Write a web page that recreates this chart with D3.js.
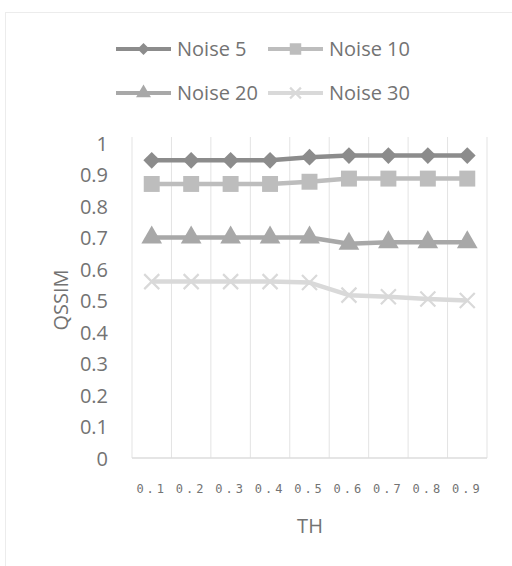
<!DOCTYPE html>
<html>
<head>
<meta charset="utf-8">
<script src="https://cdn.jsdelivr.net/npm/d3@7/dist/d3.min.js"></script>
<style>
  html, body { margin: 0; padding: 0; background: #fff; }
  svg { display: block; }
  text { font-family: "Open Sans", "Noto Sans", sans-serif; fill: #737373; }
</style>
</head>
<body>
<script>
// Threshold values on the x axis
const thresholds = ["0.1", "0.2", "0.3", "0.4", "0.5", "0.6", "0.7", "0.8", "0.9"];
const yTicks = [0, 0.1, 0.2, 0.3, 0.4, 0.5, 0.6, 0.7, 0.8, 0.9, 1];

// QSSIM per noise level
const noise5  = [0.945, 0.945, 0.945, 0.945, 0.955, 0.960, 0.960, 0.960, 0.960];
const noise10 = [0.870, 0.870, 0.870, 0.870, 0.877, 0.887, 0.887, 0.887, 0.887];
const noise20 = [0.700, 0.700, 0.700, 0.700, 0.700, 0.680, 0.685, 0.685, 0.685];
const noise30 = [0.560, 0.560, 0.560, 0.560, 0.557, 0.517, 0.512, 0.505, 0.500];

const seriesNames = ["Noise 5", "Noise 10", "Noise 20", "Noise 30"];

const series = [
  { name: seriesNames[0], values: noise5,  color: "#8c8c8c", marker: "diamond" },
  { name: seriesNames[1], values: noise10, color: "#bdbdbd", marker: "square" },
  { name: seriesNames[2], values: noise20, color: "#a8a8a8", marker: "triangle" },
  { name: seriesNames[3], values: noise30, color: "#d9d9d9", marker: "cross" }
];

const W = 512, H = 566;
const plot = { left: 132, right: 487, top: 143, bottom: 458 };

const svg = d3.select("body").append("svg").attr("width", W).attr("height", H);

// faint chart frame
svg.append("rect")
  .attr("x", 5.5).attr("y", 12.5).attr("width", 520).attr("height", 600)
  .attr("fill", "none").attr("stroke", "#ececec").attr("stroke-width", 1);

const x = d3.scaleBand().domain(thresholds).range([plot.left, plot.right]).padding(0);
const y = d3.scaleLinear().domain([0, 1]).range([plot.bottom, plot.top]);

// vertical category gridlines
const bounds = thresholds.map(t => x(t)).concat([plot.right]);
svg.append("g").selectAll("line").data(bounds).join("line")
  .attr("x1", d => d).attr("x2", d => d)
  .attr("y1", plot.top - 6).attr("y2", plot.bottom)
  .attr("stroke", "#e3e3e3").attr("stroke-width", 1);

// category axis baseline
svg.append("line")
  .attr("x1", plot.left).attr("x2", plot.right)
  .attr("y1", plot.bottom).attr("y2", plot.bottom)
  .attr("stroke", "#dcdcdc").attr("stroke-width", 1.5);

// y axis labels
const yAxis = d3.axisLeft(y).tickValues(yTicks).tickSize(0).tickPadding(0)
  .tickFormat(d => d3.format("")(+d.toFixed(1)));
const gy = svg.append("g").attr("transform", `translate(108,0)`).call(yAxis);
gy.select(".domain").remove();
gy.selectAll("text").attr("font-size", 20).attr("fill", "#737373")
  .style("font-family", "'Open Sans', sans-serif").attr("dy", "0.35em");

// x axis labels
const xAxis = d3.axisBottom(x).tickSize(0).tickPadding(0);
const gx = svg.append("g").attr("transform", `translate(0,${plot.bottom + 35})`).call(xAxis);
gx.select(".domain").remove();
gx.selectAll("text").attr("font-size", 12).attr("fill", "#9a9a9a")
  .attr("dy", "0").style("letter-spacing", "3px")
  .style("font-family", "'DejaVu Sans Mono', monospace");

// axis titles
svg.append("text").attr("x", 310).attr("y", 533).attr("text-anchor", "middle")
  .attr("font-size", 20).text("TH");
svg.append("text").attr("transform", "translate(68,300) rotate(-90)")
  .attr("text-anchor", "middle").attr("font-size", 20).text("QSSIM");

// marker shapes
function markerPath(type, s) {
  if (type === "diamond") return d3.symbol(d3.symbolDiamond2, s * s * 0.55)();
  if (type === "square") return d3.symbol(d3.symbolSquare2, s * s)();
  if (type === "triangle") return d3.symbol(d3.symbolTriangle2, s * s * 0.85)();
  return null;
}

function drawMarker(g, type, cx, cy, color, k) {
  if (type === "cross") {
    const r = 7.5 * k;
    g.append("path")
      .attr("d", `M${cx - r},${cy - r}L${cx + r},${cy + r}M${cx - r},${cy + r}L${cx + r},${cy - r}`)
      .attr("stroke", color).attr("stroke-width", 2.2).attr("fill", "none");
  } else {
    const size = (type === "triangle" ? 19 : 18) * k;
    g.append("path").attr("d", markerPath(type, size))
      .attr("transform", `translate(${cx},${cy})`)
      .attr("fill", color);
  }
}

const line = d3.line()
  .x((d, i) => x(thresholds[i]) + x.bandwidth() / 2)
  .y(d => y(d));

series.forEach(s => {
  const g = svg.append("g");
  g.append("path").datum(s.values).attr("d", line)
    .attr("fill", "none").attr("stroke", s.color).attr("stroke-width", 4.5)
    .attr("stroke-linejoin", "round");
  s.values.forEach((v, i) => {
    drawMarker(g, s.marker, x(thresholds[i]) + x.bandwidth() / 2, y(v), s.color, 1);
  });
});

// legend
const legendPos = [
  { x: 116, y: 49 }, { x: 268, y: 49 },
  { x: 116, y: 93 }, { x: 268, y: 93 }
];
series.forEach((s, i) => {
  const p = legendPos[i];
  const g = svg.append("g");
  g.append("line").attr("x1", p.x).attr("x2", p.x + 55)
    .attr("y1", p.y).attr("y2", p.y)
    .attr("stroke", s.color).attr("stroke-width", 4);
  drawMarker(g, s.marker, p.x + 27.5, p.y, s.color, 0.72);
  g.append("text").attr("x", p.x + 61).attr("y", p.y).attr("dy", "0.35em")
    .attr("font-size", 20).text(s.name);
});
</script>
</body>
</html>
